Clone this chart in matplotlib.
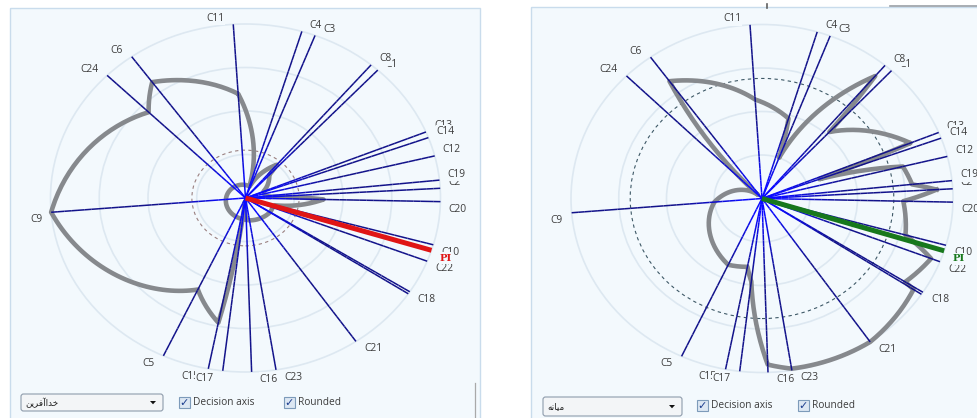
import numpy as np
import matplotlib
matplotlib.use("Agg")
import matplotlib.pyplot as plt
from matplotlib.patches import Rectangle, FancyBboxPatch, Circle, Polygon
from matplotlib.collections import LineCollection
from matplotlib.colors import to_rgb

# ---------------- data ----------------
criteria = ["C1", "C2", "C3", "C4", "C5", "C6", "C7", "C8", "C9", "C10", "C11", "C12",
            "C13", "C14", "C15", "C16", "C17", "C18", "C19", "C20", "C21", "C22", "C23", "C24"]
axis_angle = [47.3, 3.2, 69.1, 73.2, -114.9, 125.7, -33.4, 49.9, -175.3, -15.6, 93.6, 14.0,
              22.3, 20.3, -101.0, -88.2, -96.7, -32.6, 5.9, -1.2, -55.5, -21.3, -81.0, 135.2]
axis_length = [1.0, 1.0, 1.0, 1.0, 1.0, 1.0, 1.0, 1.0, 1.0, 1.0, 1.0, 1.0,
               1.0, 1.0, 1.0, 1.0, 1.0, 1.0, 1.0, 1.0, 1.0, 1.0, 1.0, 1.0]
hidden_labels = ["C7"]          # label fully covered by C18 in the reference
pi_angle = -17.5
pi_length = 1.0

left_values = [0.18, 0.12, 0.09, 0.07, 0.58, 0.82, 0.15, 0.25, 1.00, 0.155, 0.60, 0.10,
               0.10, 0.10, 0.73, 0.125, 0.02, 0.15, 0.10, 0.40, 0.14, 0.15, 0.13, 0.70]
right_values = [0.52, 0.915, 0.25, 0.48, 0.42, 0.83, 0.95, 0.92, 0.25, 0.78, 0.57, 0.76,
                0.84, 0.32, 0.40, 0.955, 0.48, 0.89, 0.79, 0.74, 1.00, 0.95, 0.99, 0.03]
left_extra_arcs = [("C4", "C16")]   # extra rounded segment, counter-clockwise
right_extra_arcs = []

ring_radii = [0.25, 0.5, 0.75, 1.0]
left_dashed_radius = 0.275
right_dashed_radius = 0.69

# Persian combobox texts (visual order, presentation forms)
left_choice = "\uFEE6\uFEF3\uFEAE\uFED3\uFE81\uFE8D\uFEAA\uFEA7"   # خداآفرین
right_choice = "\uFEEA\uFEE7\uFE8E\uFEF4\uFEE3"                   # میانه
check_labels = ["Decision axis", "Rounded"]

# ---------------- style ----------------
W, H = 977, 418
BG = "#f3f9fd"
RING = "#dde8f1"
GREY = "#86898d"
NAVY = "#12128a"
BLUE = "#0a0aff"
LABEL = "#3c3c3c"
LFONT = ["Open Sans", "DejaVu Sans"]
LBOX = dict(boxstyle="square,pad=0.06", mutation_aspect=2.5, fc=BG, ec="none")

fig = plt.figure(figsize=(W / 100, H / 100), dpi=100)
fig.patch.set_facecolor("white")


def make_panel(px0, px1, py0, py1, cx, cy, sx, sy):
    ax = fig.add_axes([px0 / W, 1 - py1 / H, (px1 - px0) / W, (py1 - py0) / H])
    ax.set_xlim((px0 - cx) / sx, (px1 - cx) / sx)
    ax.set_ylim((cy - py1) / sy, (cy - py0) / sy)
    ax.set_facecolor(BG)
    ax.set_xticks([])
    ax.set_yticks([])
    for s in ax.spines.values():
        s.set_visible(False)
    return ax


def spiral(a0, r0, a1, r1, n=40):
    t = np.linspace(0, 1, n)
    aa = np.radians(a0 + (a1 - a0) * t)
    rr = r0 + (r1 - r0) * t
    return rr * np.cos(aa), rr * np.sin(aa)


def draw_panel(ax, values, extra, dashed_r, dashed_col, pi_col):
    # rings
    for r in ring_radii:
        ax.add_patch(Circle((0, 0), r, fill=False, ec=RING, lw=1.2, zorder=1))
    ax.add_patch(Circle((0, 0), dashed_r, fill=False, ec=dashed_col, lw=0.8,
                        ls=(0, (3, 3)), zorder=2))
    # profile (rounded: radius interpolated along the angle)
    ang = np.array(axis_angle) % 360
    vals = np.array(values)
    order = np.argsort(ang)
    a_s = ang[order]
    r_s = vals[order]
    xs, ys = [], []
    n = len(a_s)
    for i in range(n):
        a0, r0 = a_s[i], r_s[i]
        a1, r1 = (a_s[i + 1], r_s[i + 1]) if i + 1 < n else (a_s[0] + 360, r_s[0])
        x, y = spiral(a0, r0, a1, r1)
        xs.extend(x)
        ys.extend(y)
    ax.plot(xs, ys, color=GREY, lw=3.3, solid_joinstyle="round", zorder=3)
    for c0, c1 in extra:
        i0, i1 = criteria.index(c0), criteria.index(c1)
        a0 = ang[i0]
        a1 = ang[i1]
        if a1 < a0:
            a1 += 360
        x, y = spiral(a0, vals[i0], a1, vals[i1])
        ax.plot(x, y, color=GREY, lw=3.3, solid_capstyle="round", zorder=3)
    # criteria axes with colour gradient (blue near centre, navy outside)
    c_in, c_out = np.array(to_rgb(BLUE)), np.array(to_rgb(NAVY))
    for name, a, L in zip(criteria, axis_angle, axis_length):
        t = np.linspace(0, L, 30)
        px, py = t * np.cos(np.radians(a)), t * np.sin(np.radians(a))
        segs = [[(px[k], py[k]), (px[k + 1], py[k + 1])] for k in range(len(t) - 1)]
        f = np.clip((t[:-1] - 0.08) / 0.35, 0, 1)[:, None]
        cols = c_in * (1 - f) + c_out * f
        ax.add_collection(LineCollection(segs, colors=cols, linewidths=1.1, zorder=4))
    # decision axis PI
    pa = np.radians(pi_angle)
    ax.plot([0, pi_length * np.cos(pa)], [0, pi_length * np.sin(pa)], color=pi_col,
            lw=3.6, solid_capstyle="butt", zorder=5)
    # labels
    for name, a, L in zip(criteria, axis_angle, axis_length):
        if name in hidden_labels:
            continue
        ex, ey = L * np.cos(np.radians(a)), L * np.sin(np.radians(a))
        right = ex >= 0
        ax.annotate(name, (ex, ey), xytext=(8 if right else -9, 6 if ey > 0 else -7.5),
                    textcoords="offset pixels", ha="left" if right else "right", va="center",
                    fontsize=7.4, family=LFONT, color=LABEL, zorder=6, bbox=LBOX)
    ex, ey = pi_length * np.cos(pa), pi_length * np.sin(pa)
    ax.annotate("PI", (ex, ey), xytext=(8, -8), textcoords="offset pixels", ha="left",
                va="center", fontsize=7.2, family=["DejaVu Serif"], fontweight="bold",
                color=pi_col, zorder=7, bbox=LBOX)


axL = make_panel(10, 480, 8, 418, 245.5, 198.0, 195.0, 174.0)
draw_panel(axL, left_values, left_extra_arcs, left_dashed_radius, "#9a8080", "#e01515")
axR = make_panel(531, 977, 7, 418, 762.0, 198.5, 191.0, 174.0)
draw_panel(axR, right_values, right_extra_arcs, right_dashed_radius, "#3d5866", "#17781c")

# ---------------- UI overlay ----------------
ui = fig.add_axes([0, 0, 1, 1], zorder=10)
ui.set_xlim(0, W)
ui.set_ylim(H, 0)
ui.axis("off")
ui.patch.set_alpha(0)

ui.add_patch(Rectangle((10, 8), 470, 412, fill=False, ec="#c9dcec", lw=1.0))
ui.add_patch(Rectangle((531, 7), 450, 413, fill=False, ec="#c9dcec", lw=1.0))
ui.plot([475, 475], [383, 418], color="#a9a9a9", lw=0.9)
ui.plot([890, 977], [5.5, 5.5], color="#9aa0a6", lw=1.2)
ui.plot([767, 767], [4, 8], color="#606060", lw=1.2)


def widgets(cb_x0, cb_x1, cb_y0, cb_y1, choice, chk1_x, chk2_x, ymid):
    ui.add_patch(FancyBboxPatch((cb_x0, cb_y0), cb_x1 - cb_x0, cb_y1 - cb_y0,
                                boxstyle="round,pad=0,rounding_size=2.5",
                                fc="#f3f5f7", ec="#8e9cac", lw=0.8))
    ui.text(cb_x0 + 4, (cb_y0 + cb_y1) / 2 + 0.5, choice, ha="left", va="center",
            fontsize=6.3, family=["DejaVu Sans"], color="#222222")
    ax_ = cb_x1 - 10
    ay_ = (cb_y0 + cb_y1) / 2
    ui.add_patch(Polygon([(ax_ - 3, ay_ - 1.5), (ax_ + 3, ay_ - 1.5), (ax_, ay_ + 1.8)],
                         closed=True, fc="#111111", ec="none"))
    for cx_, lab in zip([chk1_x, chk2_x], check_labels):
        ui.add_patch(Rectangle((cx_, ymid - 5.5), 11, 11, fc="#dce7f3", ec="#7d9bba", lw=0.8))
        ui.text(cx_ + 5.5, ymid + 0.3, "\u2713", ha="center", va="center", fontsize=8,
                family=["DejaVu Sans"], color="#1d3e8f", fontweight="bold")
        ui.text(cx_ + 14, ymid + 0.3, lab, ha="left", va="center", fontsize=7.3,
                family=LFONT, color="#3c3c3c")


widgets(21, 163, 394, 411, left_choice, 179, 284, 402.5)
widgets(543, 682, 397, 416, right_choice, 697, 798, 405.5)

fig.savefig("out.png", dpi=100, facecolor="white")
